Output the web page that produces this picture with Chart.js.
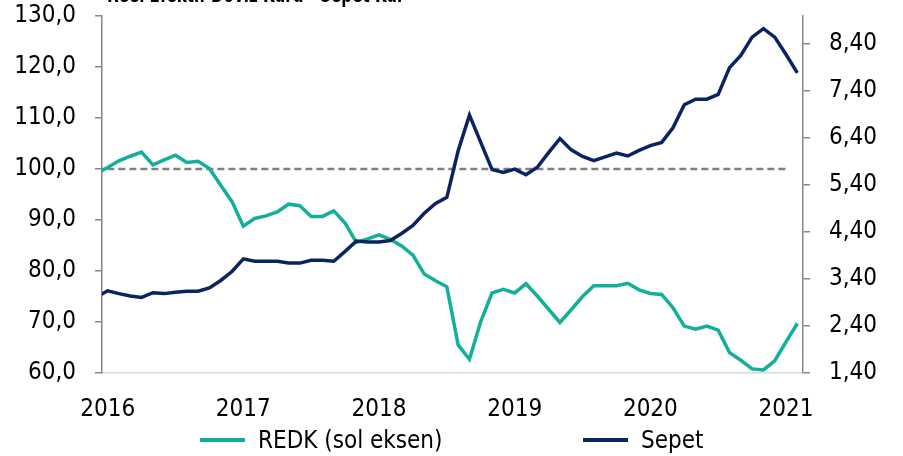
<!DOCTYPE html>
<html>
<head>
<meta charset="utf-8">
<script src="https://cdn.jsdelivr.net/npm/chart.js@4.4.1/dist/chart.umd.min.js"></script>
<style>
  html, body { margin: 0; padding: 0; background: #fff; }
  #wrap { position: relative; width: 903px; height: 456px; overflow: hidden; }
  #title { position: absolute; left: 107px; top: -20px; font: bold 24px 'DejaVu Sans Condensed', 'Liberation Sans', sans-serif; color: #000; white-space: nowrap; transform: scaleX(0.7); transform-origin: left top; }
  #legend { position: absolute; left: 0; top: 424px; width: 903px; height: 32px; font: 24px 'Liberation Sans Narrow', 'DejaVu Sans Condensed', sans-serif; color: #000; }
  .item { position: absolute; top: 0; display: flex; align-items: center; height: 32px; }
  .sw { display: inline-block; width: 45px; height: 4px; margin-right: 13px; }
  canvas { position: absolute; left: 0; top: 0; }
</style>
</head>
<body>
<div id="wrap">
  <canvas id="c" width="903" height="456"></canvas>
  <div id="title">Reel Efektif Döviz Kuru - Sepet Kur</div>
  <div id="legend"></div>
</div>
<script>
// ---- data (monthly, Dec 2015 .. Feb 2021) ----
const months = [
  '2015-12',
  '2016-01','2016-02','2016-03','2016-04','2016-05','2016-06','2016-07','2016-08','2016-09','2016-10','2016-11','2016-12',
  '2017-01','2017-02','2017-03','2017-04','2017-05','2017-06','2017-07','2017-08','2017-09','2017-10','2017-11','2017-12',
  '2018-01','2018-02','2018-03','2018-04','2018-05','2018-06','2018-07','2018-08','2018-09','2018-10','2018-11','2018-12',
  '2019-01','2019-02','2019-03','2019-04','2019-05','2019-06','2019-07','2019-08','2019-09','2019-10','2019-11','2019-12',
  '2020-01','2020-02','2020-03','2020-04','2020-05','2020-06','2020-07','2020-08','2020-09','2020-10','2020-11','2020-12',
  '2021-01','2021-02'
];
const redk = [
  99.1,
  100.3,101.6,102.5,103.3,100.8,101.8,102.7,101.3,101.5,100.1,96.8,93.6,
  88.8,90.3,90.8,91.6,93.1,92.8,90.7,90.7,91.8,89.4,85.6,86.3,
  87.1,86.2,84.9,83.1,79.4,78.1,76.9,65.5,62.7,70.1,75.7,76.4,
  75.7,77.5,75.1,72.5,69.9,72.4,75.0,77.1,77.1,77.1,77.6,76.3,
  75.6,75.4,72.8,69.2,68.6,69.2,68.4,64.0,62.5,60.8,60.6,62.4,
  66.1,69.7
];
const sepet = [
  3.01,
  3.15,3.09,3.04,3.01,3.11,3.09,3.12,3.14,3.14,3.21,3.37,3.56,
  3.83,3.78,3.78,3.78,3.74,3.74,3.80,3.80,3.78,3.99,4.21,4.19,
  4.19,4.22,4.37,4.54,4.80,5.01,5.14,6.13,6.89,6.31,5.73,5.67,
  5.74,5.62,5.78,6.09,6.39,6.15,6.01,5.92,6.00,6.08,6.02,6.14,
  6.24,6.31,6.62,7.11,7.23,7.23,7.33,7.90,8.16,8.55,8.73,8.55,
  8.18,7.79
];
const refLevel = 100;          // dashed reference line
const refEndMonth = '2021-01'; // last month of the reference line
const yearTicks = ['2016','2017','2018','2019','2020','2021'];
const leftTicks = [60,70,80,90,100,110,120,130];
const rightTicks = [1.4,2.4,3.4,4.4,5.4,6.4,7.4,8.4];
const seriesNames = ['REDK (sol eksen)', 'Sepet'];

// ---- build ----
const firstJan = months.indexOf('2016-01');
const xOf = m => months.indexOf(m) - firstJan;
const redkPts = redk.map((v, i) => ({ x: xOf(months[i]), y: v }));
const sepetPts = sepet.map((v, i) => ({ x: xOf(months[i]), y: v }));
const refPts = months.slice(0, months.indexOf(refEndMonth) + 1).map(m => ({ x: xOf(m), y: refLevel }));
const yearX = yearTicks.map(y => xOf(y + '-01'));

const TEAL = '#12B09A';
const NAVY = '#0A2463';
const FONT = "'Liberation Sans Narrow', 'DejaVu Sans Condensed', sans-serif";
const FS = 24;
const noPad = s => { s.paddingTop = 0; s.paddingBottom = 0; s.paddingLeft = 0; s.paddingRight = 0; };

new Chart(document.getElementById('c'), {
  type: 'line',
  data: {
    datasets: [
      { label: seriesNames[1], data: sepetPts, yAxisID: 'y1', borderColor: NAVY, borderWidth: 3.5, pointRadius: 0, tension: 0, order: 0 },
      { label: seriesNames[0], data: redkPts, yAxisID: 'y', borderColor: TEAL, borderWidth: 3.5, pointRadius: 0, tension: 0, order: 1 },
      { label: 'ref', data: refPts, yAxisID: 'y', borderColor: '#808080', borderWidth: 2.5, borderDash: [7, 4], pointRadius: 0, tension: 0, order: 2 }
    ]
  },
  options: {
    responsive: false,
    animation: false,
    layout: { padding: { top: 16, left: 0, right: 0, bottom: 0 } },
    plugins: { legend: { display: false }, tooltip: { enabled: false }, title: { display: false } },
    scales: {
      x: {
        type: 'linear',
        min: -0.5,
        max: months.length - 1 - firstJan + 0.5,
        afterBuildTicks: s => { s.ticks = yearX.map(v => ({ value: v })); },
        afterFit: s => { s.height = 83; noPad(s); },
        ticks: { autoSkip: false, maxRotation: 0, padding: 22, color: '#000', font: { family: FONT, size: FS },
          callback: v => yearTicks[yearX.indexOf(v)] },
        grid: { display: false, drawTicks: false },
        border: { display: true, color: '#d9d9d9', width: 1.5 }
      },
      y: {
        position: 'left',
        min: 60, max: 130,
        afterBuildTicks: s => { s.ticks = leftTicks.map(v => ({ value: v })); },
        afterFit: s => { s.width = 102; noPad(s); },
        ticks: { padding: 19, color: '#000', font: { family: FONT, size: FS },
          callback: v => v.toFixed(1).replace('.', ',') },
        grid: { drawOnChartArea: false, drawTicks: true, tickLength: 7, color: '#868686', lineWidth: 1.5 },
        border: { display: true, color: '#868686', width: 1.5 }
      },
      y1: {
        position: 'right',
        min: 1.4, max: 9.0,
        afterBuildTicks: s => { s.ticks = rightTicks.map(v => ({ value: v })); },
        afterFit: s => { s.width = 100; noPad(s); },
        ticks: { padding: 19, color: '#000', font: { family: FONT, size: FS },
          callback: v => v.toFixed(2).replace('.', ',') },
        grid: { drawOnChartArea: false, drawTicks: true, tickLength: 7, color: '#868686', lineWidth: 1.5 },
        border: { display: true, color: '#868686', width: 1.5 }
      }
    }
  }
});

// HTML legend
const leg = document.getElementById('legend');
const legItems = [
  { name: seriesNames[0], color: TEAL, left: 200 },
  { name: seriesNames[1], color: NAVY, left: 583 }
];
legItems.forEach(it => {
  const d = document.createElement('div');
  d.className = 'item';
  d.style.left = it.left + 'px';
  const sw = document.createElement('span');
  sw.className = 'sw';
  sw.style.background = it.color;
  const t = document.createElement('span');
  t.textContent = it.name;
  d.appendChild(sw); d.appendChild(t);
  leg.appendChild(d);
});
</script>
</body>
</html>
